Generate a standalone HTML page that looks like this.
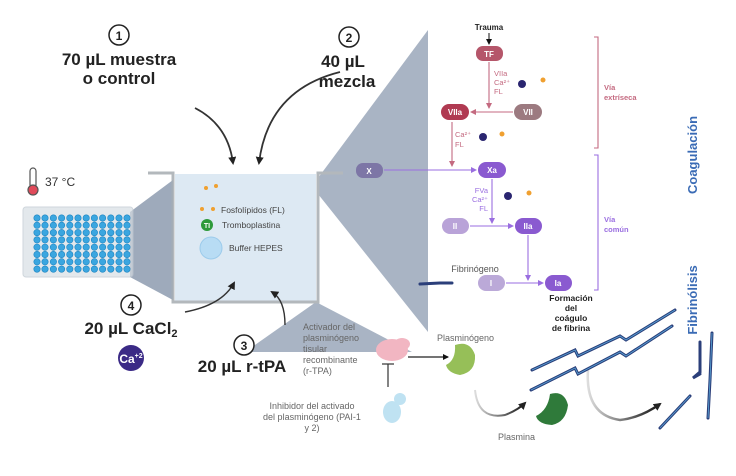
<!DOCTYPE html>
<html><head><meta charset="utf-8"><style>
body{margin:0;background:#fff;width:736px;height:476px;overflow:hidden}
svg{display:block;font-family:"Liberation Sans",sans-serif}
</style></head><body>
<svg width="736" height="476" viewBox="0 0 736 476">
<defs>
<marker id="ab" markerWidth="8" markerHeight="8" refX="6" refY="4" orient="auto" markerUnits="userSpaceOnUse"><path d="M0,0 L8,4 L0,8 z" fill="#222"/></marker>
<marker id="ap" markerWidth="6" markerHeight="6" refX="5" refY="3" orient="auto" markerUnits="userSpaceOnUse"><path d="M0,0 L6,3 L0,6 z" fill="#c46a80"/></marker>
<marker id="av" markerWidth="6" markerHeight="6" refX="5" refY="3" orient="auto" markerUnits="userSpaceOnUse"><path d="M0,0 L6,3 L0,6 z" fill="#9a6ee0"/></marker>
<marker id="ak" markerWidth="6" markerHeight="6" refX="5" refY="3" orient="auto" markerUnits="userSpaceOnUse"><path d="M0,0 L6,3 L0,6 z" fill="#111"/></marker>
<linearGradient id="gr" x1="0" y1="0" x2="1" y2="0"><stop offset="0" stop-color="#ddd"/><stop offset="1" stop-color="#111"/></linearGradient>
</defs>
<!-- gray wedges -->
<polygon points="130,212 173,180 173,300 130,277" fill="#a9b4c4"/>
<polygon points="318,178 428,30 428,332 318,194" fill="#a9b4c4"/>
<polygon points="316,302 245,352 412,352" fill="#a9b4c4"/>
<!-- plate -->
<rect x="23" y="207" width="110" height="70" rx="3" fill="#e3e8ec" stroke="#cfd6dc"/>
<!-- thermometer -->
<rect x="30" y="168" width="6" height="20" rx="3" fill="#fff" stroke="#555" stroke-width="1.2"/>
<circle cx="33" cy="190" r="5" fill="#e04a5a" stroke="#555" stroke-width="1.2"/>
<text x="45" y="186" font-size="12" fill="#333">37 °C</text>
<!-- cuvette -->
<rect x="175" y="174" width="141" height="127" fill="#dde9f3"/>
<polyline points="148,173 173,173 173,302 318,302 318,173 343,173" fill="none" stroke="#b3b8bc" stroke-width="3"/>
<!-- step labels -->
<g font-weight="bold" fill="#222">
<circle cx="119" cy="35" r="10" fill="#fff" stroke="#222" stroke-width="1.5"/><text x="119" y="40" font-size="12" text-anchor="middle">1</text>
<text x="119" y="65" font-size="17" text-anchor="middle">70 µL muestra</text>
<text x="119" y="84" font-size="17" text-anchor="middle">o control</text>
<circle cx="349" cy="37" r="10" fill="#fff" stroke="#222" stroke-width="1.5"/><text x="349" y="42" font-size="12" text-anchor="middle">2</text>
<text x="343" y="67" font-size="17" text-anchor="middle">40 µL</text>
<text x="347" y="87" font-size="17" text-anchor="middle">mezcla</text>
<circle cx="131" cy="305" r="10" fill="#fff" stroke="#222" stroke-width="1.5"/><text x="131" y="310" font-size="12" text-anchor="middle">4</text>
<text x="131" y="334" font-size="17" text-anchor="middle">20 µL CaCl<tspan font-size="11" dy="3">2</tspan></text>
<circle cx="244" cy="345" r="10" fill="#fff" stroke="#222" stroke-width="1.5"/><text x="244" y="350" font-size="12" text-anchor="middle">3</text>
<text x="242" y="372" font-size="17" text-anchor="middle">20 µL r-tPA</text>
</g>
<circle cx="131" cy="358" r="13" fill="#3b2a86"/>
<text x="131" y="363" font-size="12" fill="#fff" text-anchor="middle" font-weight="bold">Ca<tspan font-size="7" dy="-5">+2</tspan></text>
<!-- arrows -->
<path d="M195,108 Q228,125 233,163" fill="none" stroke="#333" stroke-width="1.8" marker-end="url(#ab)"/>
<path d="M340,72 Q268,90 259,163" fill="none" stroke="#333" stroke-width="1.8" marker-end="url(#ab)"/>
<path d="M185,312 Q222,305 234,283" fill="none" stroke="#333" stroke-width="1.4" marker-end="url(#ab)"/>
<path d="M285,325 Q285,300 272,292" fill="none" stroke="#333" stroke-width="1.4" marker-end="url(#ab)"/>
<!-- cuvette contents -->
<g fill="#f0a030"><circle cx="206" cy="188" r="2"/><circle cx="216" cy="186" r="2"/><circle cx="202" cy="209" r="2"/><circle cx="213" cy="209" r="2"/></g>
<text x="221" y="213" font-size="8.5" fill="#444">Fosfolípidos (FL)</text>
<circle cx="207" cy="225" r="6" fill="#2e9a3a"/><text x="207" y="228" font-size="7" fill="#fff" text-anchor="middle" font-weight="bold">TI</text>
<text x="222" y="228" font-size="8.5" fill="#444">Tromboplastina</text>
<circle cx="211" cy="248" r="11" fill="#b8dcf4" stroke="#9ccbeb"/>
<text x="229" y="251" font-size="8.5" fill="#444">Buffer HEPES</text>
<!-- fibrinolysis left -->
<g font-size="9" fill="#666">
<text x="303" y="330">Activador del</text><text x="303" y="341">plasminógeno</text><text x="303" y="352">tisular</text><text x="303" y="363">recombinante</text><text x="303" y="374">(r-TPA)</text>
<text x="312" y="409" text-anchor="middle">Inhibidor del activado</text><text x="312" y="420" text-anchor="middle">del plasminógeno (PAI-1</text><text x="312" y="431" text-anchor="middle">y 2)</text>
<text x="437" y="341">Plasminógeno</text>
<text x="498" y="440">Plasmina</text>
</g>
<ellipse cx="392" cy="350" rx="16" ry="11" fill="#f2b6c2"/><ellipse cx="402" cy="344" rx="8" ry="6" fill="#f2b6c2"/>
<line x1="388" y1="364" x2="388" y2="387" stroke="#333" stroke-width="1.2"/><line x1="382" y1="364" x2="394" y2="364" stroke="#333" stroke-width="1.2"/>
<ellipse cx="392" cy="412" rx="9" ry="11" fill="#bfe2f2"/><ellipse cx="400" cy="399" rx="6" ry="6" fill="#bfe2f2"/>
<line x1="408" y1="357" x2="448" y2="357" stroke="#222" stroke-width="1.3" marker-end="url(#ak)"/>
<path d="M455,345 Q470,340 475,355 Q476,372 460,375 Q448,373 446,365 Q456,360 455,345z" fill="#96bf58"/>
<path d="M550,394 Q564,390 568,405 Q566,422 552,425 Q538,424 536,416 Q548,410 550,394z" fill="#2f7a3a"/>
<path d="M475,390 Q478,420 505,415 Q518,410 525,403" fill="none" stroke="url(#gr)" stroke-width="2" marker-end="url(#ab)"/>
<path d="M588,370 Q585,415 620,420 Q640,418 660,404" fill="none" stroke="url(#gr)" stroke-width="2.5" marker-end="url(#ab)"/>
<!-- fibrin strands -->
<g fill="none" stroke="#2b3f7a" stroke-width="3" stroke-linecap="round">
<path d="M532,370 L575,350 L578,356 L620,336 L626,340 L675,310"/>
<path d="M531,390 L575,368 L578,374 L620,352 L626,356 L672,326"/>
<path d="M660,428 L690,396"/>
<path d="M700,342 L700,372 L693,378 L700,374"/>
<path d="M712,333 L710,380 L708,418"/>
<path d="M420,284 L440,283 L452,283"/>
</g>
<g fill="none" stroke="#5aa6d8" stroke-width="0.8">
<path d="M532,370 L575,350 L578,356 L620,336 L626,340 L675,310"/>
<path d="M531,390 L575,368 L578,374 L620,352 L626,356 L672,326"/>
<path d="M712,333 L710,380 L708,418"/>
<path d="M660,428 L690,396"/>
</g>
<!-- coagulation cascade -->
<text x="489" y="30" font-size="8" font-weight="bold" fill="#222" text-anchor="middle">Trauma</text>
<line x1="489" y1="33" x2="489" y2="44" stroke="#111" marker-end="url(#ak)"/>
<g font-size="8" font-weight="bold" fill="#fff" text-anchor="middle">
<rect x="476" y="46" width="27" height="15" rx="7" fill="#b5566a"/><text x="489" y="57">TF</text>
<rect x="441" y="104" width="28" height="16" rx="8" fill="#b03a52"/><text x="455" y="115">VIIa</text>
<rect x="514" y="104" width="28" height="16" rx="8" fill="#9c7a80"/><text x="528" y="115">VII</text>
<rect x="356" y="163" width="27" height="15" rx="7" fill="#7d76a6"/><text x="369" y="174">X</text>
<rect x="478" y="162" width="28" height="16" rx="8" fill="#8a5ad0"/><text x="492" y="173">Xa</text>
<rect x="442" y="218" width="27" height="16" rx="8" fill="#b9a3d8"/><text x="455" y="229">II</text>
<rect x="515" y="218" width="27" height="16" rx="8" fill="#8a5ad0"/><text x="528" y="229">IIa</text>
<rect x="478" y="275" width="27" height="16" rx="8" fill="#bba9d8"/><text x="491" y="286">I</text>
<rect x="545" y="275" width="27" height="16" rx="8" fill="#8a5ad0"/><text x="558" y="286">Ia</text>
</g>
<g stroke="#c46a80" stroke-width="1.1" fill="none">
<line x1="489" y1="62" x2="489" y2="108" marker-end="url(#ap)"/>
<line x1="513" y1="112" x2="471" y2="112" marker-end="url(#ap)"/>
<line x1="452" y1="122" x2="452" y2="166" marker-end="url(#ap)"/>
<path d="M594,37 L598,37 L598,148 L594,148"/>
</g>
<g stroke="#9a6ee0" stroke-width="1.1" fill="none">
<line x1="384" y1="170" x2="476" y2="170" marker-end="url(#av)"/>
<line x1="492" y1="179" x2="492" y2="223" marker-end="url(#av)"/>
<line x1="470" y1="226" x2="513" y2="226" marker-end="url(#av)"/>
<line x1="528" y1="235" x2="528" y2="280" marker-end="url(#av)"/>
<line x1="506" y1="283" x2="543" y2="283" marker-end="url(#av)"/>
<path d="M594,155 L598,155 L598,290 L594,290"/>
</g>
<g font-size="7.5" fill="#c46a80"><text x="494" y="76">VIIa</text><text x="494" y="85">Ca²⁺</text><text x="494" y="94">FL</text>
<text x="455" y="137">Ca²⁺</text><text x="455" y="147">FL</text></g>
<g font-size="7.5" fill="#9a6ee0" text-anchor="end"><text x="488" y="193">FVa</text><text x="488" y="202">Ca²⁺</text><text x="488" y="211">FL</text></g>
<g fill="#2a2570"><circle cx="522" cy="84" r="4"/><circle cx="483" cy="137" r="4"/><circle cx="508" cy="196" r="4"/></g>
<g fill="#f0a030"><circle cx="543" cy="80" r="2.5"/><circle cx="502" cy="134" r="2.5"/><circle cx="529" cy="193" r="2.5"/></g>
<g font-size="7.5" font-weight="bold"><text x="604" y="90" fill="#c46a80">Vía</text><text x="604" y="100" fill="#c46a80">extríseca</text>
<text x="604" y="222" fill="#9a6ee0">Vía</text><text x="604" y="232" fill="#9a6ee0">común</text></g>
<text x="475" y="272" font-size="9" fill="#555" text-anchor="middle">Fibrinógeno</text>
<g font-size="8.5" font-weight="bold" fill="#222" text-anchor="middle"><text x="571" y="301">Formación</text><text x="571" y="311">del</text><text x="571" y="321">coágulo</text><text x="571" y="331">de fibrina</text></g>
<text transform="translate(697,155) rotate(-90)" font-size="13" font-weight="bold" fill="#3a6bb5" text-anchor="middle">Coagulación</text>
<text transform="translate(697,300) rotate(-90)" font-size="13" font-weight="bold" fill="#3a6bb5" text-anchor="middle">Fibrinólisis</text>
<!-- wells -->
<g fill="#3aa6e0" stroke="#1f86c2" stroke-width="0.6">
<circle cx="37" cy="218" r="3.2"/><circle cx="45" cy="218" r="3.2"/><circle cx="53.4" cy="218" r="3.2"/><circle cx="61.6" cy="218" r="3.2"/><circle cx="69.8" cy="218" r="3.2"/><circle cx="78" cy="218" r="3.2"/><circle cx="86.2" cy="218" r="3.2"/><circle cx="94.4" cy="218" r="3.2"/><circle cx="102.6" cy="218" r="3.2"/><circle cx="110.8" cy="218" r="3.2"/><circle cx="119" cy="218" r="3.2"/><circle cx="127" cy="218" r="3.2"/>
<circle cx="37" cy="225.3" r="3.2"/><circle cx="45" cy="225.3" r="3.2"/><circle cx="53.4" cy="225.3" r="3.2"/><circle cx="61.6" cy="225.3" r="3.2"/><circle cx="69.8" cy="225.3" r="3.2"/><circle cx="78" cy="225.3" r="3.2"/><circle cx="86.2" cy="225.3" r="3.2"/><circle cx="94.4" cy="225.3" r="3.2"/><circle cx="102.6" cy="225.3" r="3.2"/><circle cx="110.8" cy="225.3" r="3.2"/><circle cx="119" cy="225.3" r="3.2"/><circle cx="127" cy="225.3" r="3.2"/>
<circle cx="37" cy="232.6" r="3.2"/><circle cx="45" cy="232.6" r="3.2"/><circle cx="53.4" cy="232.6" r="3.2"/><circle cx="61.6" cy="232.6" r="3.2"/><circle cx="69.8" cy="232.6" r="3.2"/><circle cx="78" cy="232.6" r="3.2"/><circle cx="86.2" cy="232.6" r="3.2"/><circle cx="94.4" cy="232.6" r="3.2"/><circle cx="102.6" cy="232.6" r="3.2"/><circle cx="110.8" cy="232.6" r="3.2"/><circle cx="119" cy="232.6" r="3.2"/><circle cx="127" cy="232.6" r="3.2"/>
<circle cx="37" cy="239.9" r="3.2"/><circle cx="45" cy="239.9" r="3.2"/><circle cx="53.4" cy="239.9" r="3.2"/><circle cx="61.6" cy="239.9" r="3.2"/><circle cx="69.8" cy="239.9" r="3.2"/><circle cx="78" cy="239.9" r="3.2"/><circle cx="86.2" cy="239.9" r="3.2"/><circle cx="94.4" cy="239.9" r="3.2"/><circle cx="102.6" cy="239.9" r="3.2"/><circle cx="110.8" cy="239.9" r="3.2"/><circle cx="119" cy="239.9" r="3.2"/><circle cx="127" cy="239.9" r="3.2"/>
<circle cx="37" cy="247.2" r="3.2"/><circle cx="45" cy="247.2" r="3.2"/><circle cx="53.4" cy="247.2" r="3.2"/><circle cx="61.6" cy="247.2" r="3.2"/><circle cx="69.8" cy="247.2" r="3.2"/><circle cx="78" cy="247.2" r="3.2"/><circle cx="86.2" cy="247.2" r="3.2"/><circle cx="94.4" cy="247.2" r="3.2"/><circle cx="102.6" cy="247.2" r="3.2"/><circle cx="110.8" cy="247.2" r="3.2"/><circle cx="119" cy="247.2" r="3.2"/><circle cx="127" cy="247.2" r="3.2"/>
<circle cx="37" cy="254.5" r="3.2"/><circle cx="45" cy="254.5" r="3.2"/><circle cx="53.4" cy="254.5" r="3.2"/><circle cx="61.6" cy="254.5" r="3.2"/><circle cx="69.8" cy="254.5" r="3.2"/><circle cx="78" cy="254.5" r="3.2"/><circle cx="86.2" cy="254.5" r="3.2"/><circle cx="94.4" cy="254.5" r="3.2"/><circle cx="102.6" cy="254.5" r="3.2"/><circle cx="110.8" cy="254.5" r="3.2"/><circle cx="119" cy="254.5" r="3.2"/><circle cx="127" cy="254.5" r="3.2"/>
<circle cx="37" cy="261.8" r="3.2"/><circle cx="45" cy="261.8" r="3.2"/><circle cx="53.4" cy="261.8" r="3.2"/><circle cx="61.6" cy="261.8" r="3.2"/><circle cx="69.8" cy="261.8" r="3.2"/><circle cx="78" cy="261.8" r="3.2"/><circle cx="86.2" cy="261.8" r="3.2"/><circle cx="94.4" cy="261.8" r="3.2"/><circle cx="102.6" cy="261.8" r="3.2"/><circle cx="110.8" cy="261.8" r="3.2"/><circle cx="119" cy="261.8" r="3.2"/><circle cx="127" cy="261.8" r="3.2"/>
<circle cx="37" cy="269.1" r="3.2"/><circle cx="45" cy="269.1" r="3.2"/><circle cx="53.4" cy="269.1" r="3.2"/><circle cx="61.6" cy="269.1" r="3.2"/><circle cx="69.8" cy="269.1" r="3.2"/><circle cx="78" cy="269.1" r="3.2"/><circle cx="86.2" cy="269.1" r="3.2"/><circle cx="94.4" cy="269.1" r="3.2"/><circle cx="102.6" cy="269.1" r="3.2"/><circle cx="110.8" cy="269.1" r="3.2"/><circle cx="119" cy="269.1" r="3.2"/><circle cx="127" cy="269.1" r="3.2"/>
</g>
<polygon points="130,212 173,180 173,300 130,277" fill="#8a98ad" opacity="0.35"/>
</svg>
</body></html>
